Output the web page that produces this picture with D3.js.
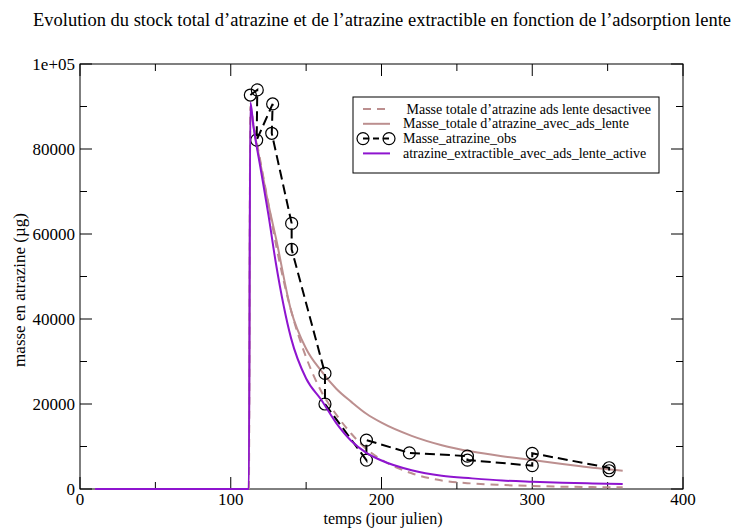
<!DOCTYPE html>
<html>
<head>
<meta charset="utf-8">
<script src="https://cdn.jsdelivr.net/npm/d3@7"></script>
<style>
  body { margin: 0; background: #fff; }
  text { font-family: "Liberation Serif", "Times New Roman", serif; fill: #000; }
</style>
</head>
<body>
<div id="chart"></div>
<script>
// model curves, sampled on the same days
const days = [10, 112, 113, 115, 120, 125, 130, 140, 150, 160, 170, 180, 190, 200, 220, 240, 260, 280, 300, 320, 340, 360];
const totalDesactivee = [0, 0, 90000, 86000, 76500, 67000, 57500, 42000, 31000, 23000, 17500, 13000, 9400, 6900, 3700, 2000, 1300, 950, 700, 550, 450, 400];
const totalAvecAds = [0, 0, 90000, 85500, 76000, 67000, 59000, 42000, 33000, 27800, 23600, 20500, 17700, 15600, 12500, 10300, 8800, 7700, 6800, 5900, 5000, 4300];
const extractible = [0, 0, 91000, 85500, 75000, 64500, 53000, 35500, 26000, 21000, 15500, 11300, 8500, 6700, 4400, 3100, 2500, 2000, 1700, 1450, 1300, 1180];

// observations (line order as drawn)
const obsDays = [113, 117.6, 117.2, 127.8, 127.2, 140.4, 140.4, 162.5, 162.5, 190, 190, 218.5, 257, 257, 300, 300, 351, 351];
const obsMass = [92700, 93900, 82100, 90600, 83700, 62500, 56400, 27200, 20000, 6800, 11500, 8500, 7750, 6800, 5500, 8400, 5000, 4300];

const xTicks = [0, 100, 200, 300, 400];
const yTicks = [0, 20000, 40000, 60000, 80000, 100000];
const yTickLabels = ['0', '20000', '40000', '60000', '80000', '1e+05'];

const W = 739, H = 528;
const margin = { left: 80, right: 56, top: 64, bottom: 39 };
const width = W - margin.left - margin.right;
const height = H - margin.top - margin.bottom;

const brown = '#bc8f8f';
const violet = '#8e14cf';

const svg = d3.select('#chart').append('svg')
   .attr('width', W)
   .attr('height', H);

const g = svg.append('g')
   .attr('transform', `translate(${margin.left}, ${margin.top})`);

const x = d3.scaleLinear().domain([0, 400]).range([0, width]);
const y = d3.scaleLinear().domain([0, 100000]).range([height, 0]);

// title
svg.append('text')
   .attr('x', 382).attr('y', 26)
   .attr('text-anchor', 'middle')
   .attr('font-size', '18.5px')
   .text('Evolution du stock total d’atrazine et de l’atrazine extractible en fonction de l’adsorption lente');

// frame
g.append('rect')
   .attr('width', width).attr('height', height)
   .attr('fill', 'none').attr('stroke', '#000').attr('stroke-width', 1);

// ticks (inward, mirrored)
const xMinor = d3.range(50, 400, 100);
const yMinor = d3.range(10000, 100000, 20000);
const tickG = g.append('g').attr('stroke', '#000').attr('stroke-width', 1);
xTicks.concat(xMinor).forEach(v => {
   const len = xTicks.includes(v) ? 12 : 7;
   tickG.append('line').attr('x1', x(v)).attr('x2', x(v)).attr('y1', height).attr('y2', height - len);
   tickG.append('line').attr('x1', x(v)).attr('x2', x(v)).attr('y1', 0).attr('y2', len);
});
yTicks.concat(yMinor).forEach(v => {
   const len = yTicks.includes(v) ? 12 : 7;
   tickG.append('line').attr('y1', y(v)).attr('y2', y(v)).attr('x1', 0).attr('x2', len);
   tickG.append('line').attr('y1', y(v)).attr('y2', y(v)).attr('x1', width).attr('x2', width - len);
});

g.selectAll('.xlab').data(xTicks).enter().append('text')
   .attr('x', d => x(d)).attr('y', height + 16)
   .attr('text-anchor', 'middle').attr('font-size', '17px')
   .text(d => d);

g.selectAll('.ylab').data(yTicks).enter().append('text')
   .attr('x', -5).attr('y', d => y(d) + 6)
   .attr('text-anchor', 'end').attr('font-size', '17px')
   .text((d, i) => yTickLabels[i]);

svg.append('text')
   .attr('x', 383).attr('y', 523.5)
   .attr('text-anchor', 'middle').attr('font-size', '16px')
   .text('temps (jour julien)');

svg.append('text')
   .attr('transform', 'translate(25, 290) rotate(-90)')
   .attr('text-anchor', 'middle').attr('font-size', '17px')
   .text('masse en atrazine (µg)');

// series
const curve = d3.line()
   .x(d => x(d[0]))
   .y(d => y(d[1]))
   .curve(d3.curveMonotoneX);
const straight = d3.line()
   .x(d => x(d[0]))
   .y(d => y(d[1]));

const plot = g.append('g');

plot.append('path')
   .attr('d', curve(days.map((d, i) => [d, totalDesactivee[i]])))
   .attr('fill', 'none').attr('stroke', brown).attr('stroke-width', 2)
   .attr('stroke-dasharray', '8,6');

plot.append('path')
   .attr('d', curve(days.map((d, i) => [d, totalAvecAds[i]])))
   .attr('fill', 'none').attr('stroke', brown).attr('stroke-width', 2);

const obs = obsDays.map((d, i) => [d, obsMass[i]]);
plot.append('path')
   .attr('d', straight(obs))
   .attr('fill', 'none').attr('stroke', '#000').attr('stroke-width', 2)
   .attr('stroke-dasharray', '10,5');

plot.selectAll('circle.obs').data(obs).enter().append('circle')
   .attr('class', 'obs')
   .attr('cx', d => x(d[0])).attr('cy', d => y(d[1]))
   .attr('r', 6)
   .attr('fill', 'none').attr('stroke', '#000').attr('stroke-width', 1.2);

plot.append('path')
   .attr('d', curve(days.map((d, i) => [d, extractible[i]])))
   .attr('fill', 'none').attr('stroke', violet).attr('stroke-width', 2);

// legend
const legend = svg.append('g').attr('transform', 'translate(353, 97)');
legend.append('rect')
   .attr('width', 306).attr('height', 76)
   .attr('fill', '#fff').attr('stroke', '#000').attr('stroke-width', 1);

const entries = [
   { label: ' Masse totale d’atrazine ads lente desactivee', stroke: brown, dash: '8,6' },
   { label: 'Masse_totale d’atrazine_avec_ads_lente', stroke: brown, dash: null },
   { label: 'Masse_atrazine_obs', stroke: '#000', dash: '6,4', marker: true },
   { label: 'atrazine_extractible_avec_ads_lente_active', stroke: violet, dash: null }
];

entries.forEach((e, i) => {
   const yy = 12 + i * 14.8;
   legend.append('line')
      .attr('x1', 10).attr('x2', 37).attr('y1', yy).attr('y2', yy)
      .attr('stroke', e.stroke).attr('stroke-width', 2)
      .attr('stroke-dasharray', e.dash);
   if (e.marker) {
      [10, 36].forEach(cx => legend.append('circle')
         .attr('cx', cx).attr('cy', yy).attr('r', 6)
         .attr('fill', 'none').attr('stroke', '#000').attr('stroke-width', 1.2));
   }
   legend.append('text')
      .attr('x', 50).attr('y', yy + 4.5)
      .attr('font-size', '14px')
      .attr('xml:space', 'preserve')
      .style('white-space', 'pre')
      .text(e.label);
});
</script>
</body>
</html>
